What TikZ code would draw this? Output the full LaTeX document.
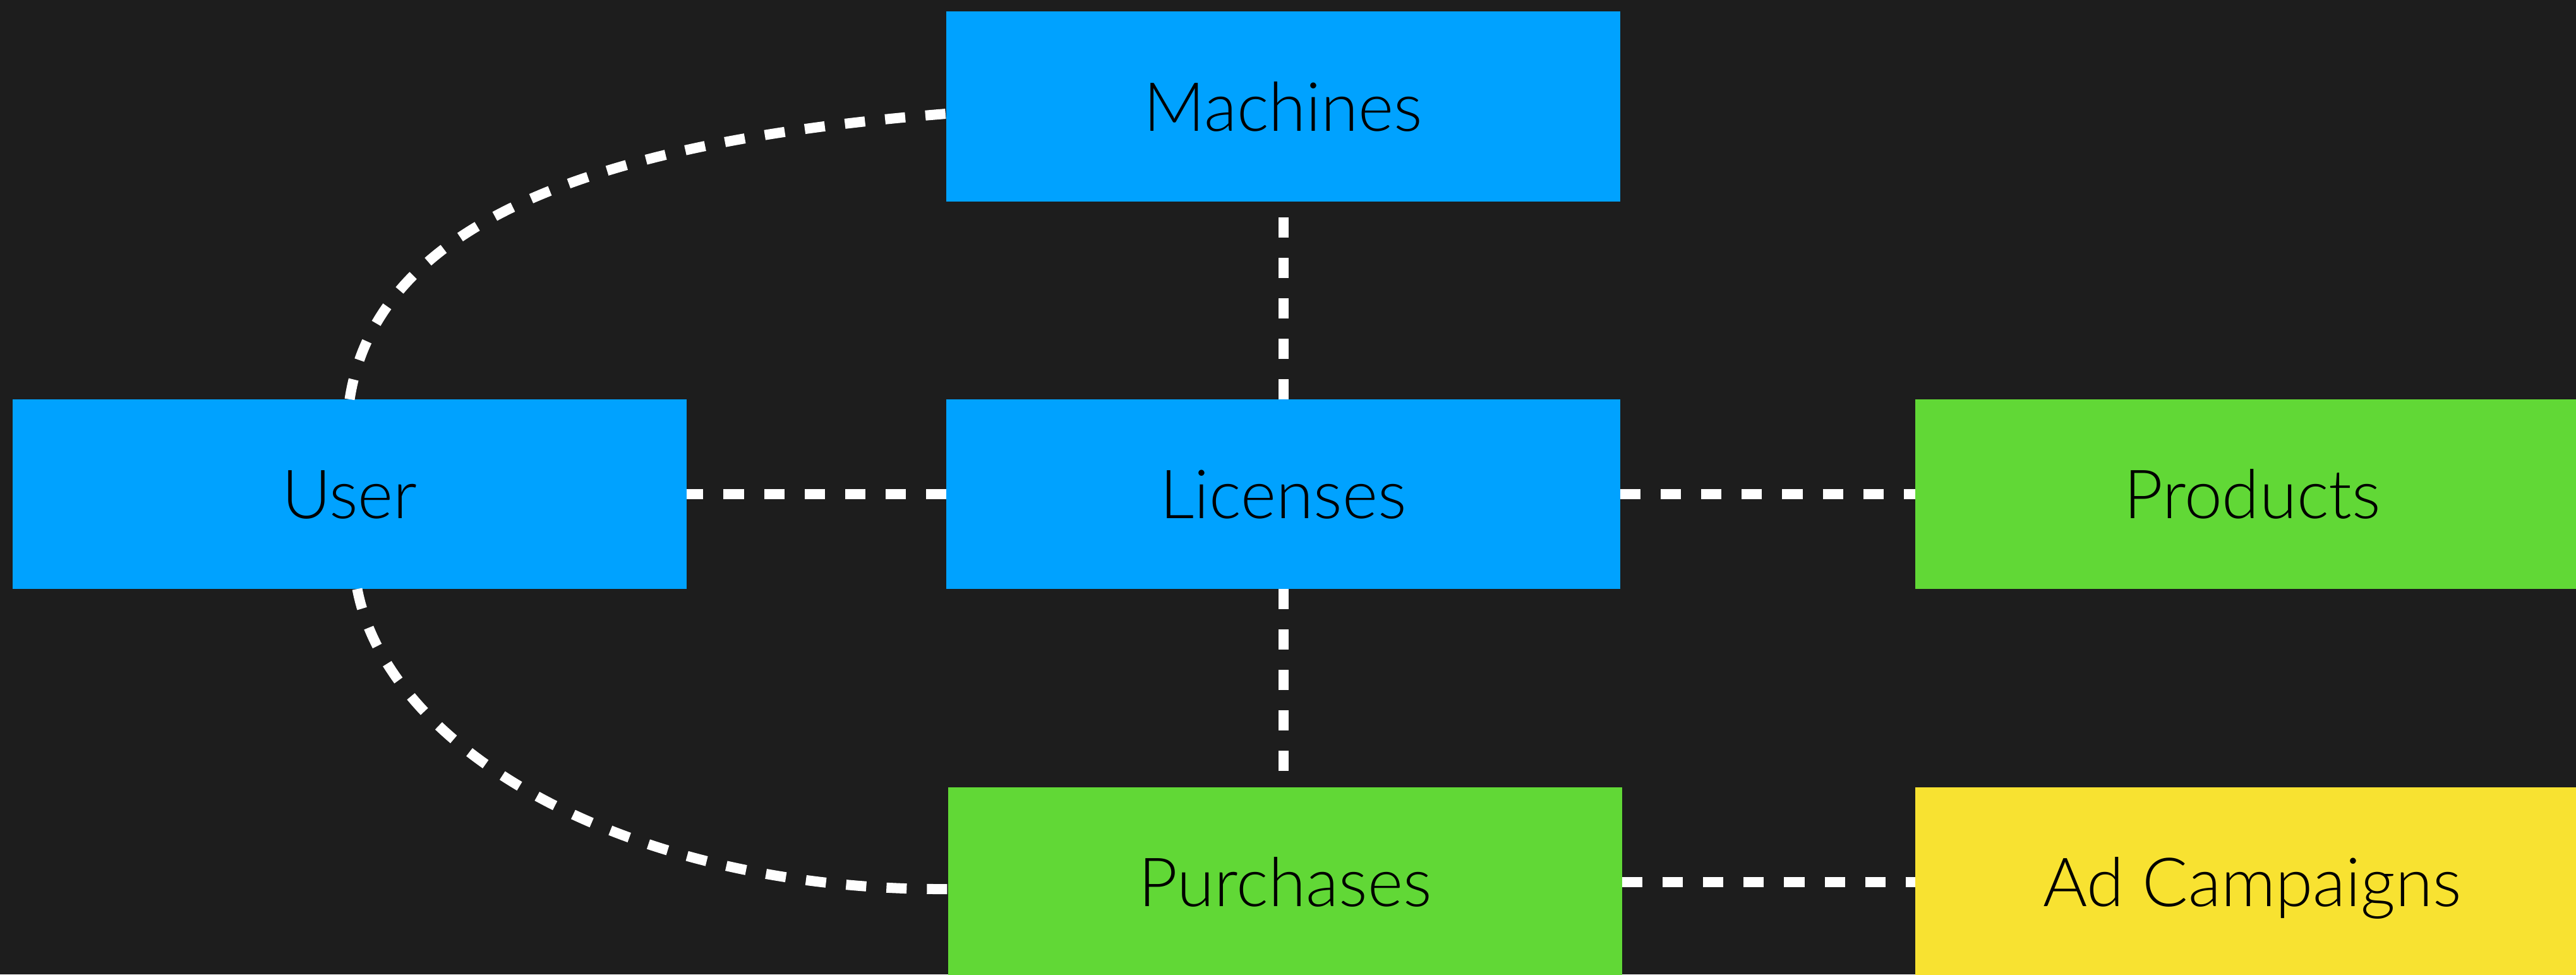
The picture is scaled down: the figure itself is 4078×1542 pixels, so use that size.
\documentclass[tikz,border=0pt]{standalone}
\usepackage{fontspec}
\setmainfont{Lato Light}
\definecolor{bgc}{HTML}{1D1D1D}
\definecolor{kblue}{HTML}{00A2FF}
\definecolor{kgreen}{HTML}{61D836}
\definecolor{kyellow}{HTML}{F8E231}
\tikzset{
  entity/.style={rectangle, draw=none, inner sep=0pt, outer sep=0pt,
    minimum width=10.67cm, minimum height=3cm,
    text height=0.77cm, text depth=0pt, text=black,
    font=\fontsize{30.5}{36}\selectfont},
  conn/.style={draw=white, line width=0.16cm, dash pattern=on 0.32cm off 0.32cm}
}
\begin{document}
\begin{tikzpicture}[x=0.01cm, y=-0.01cm]
\useasboundingbox (0,0) rectangle (4078,1542);
\fill[bgc] (0,0) rectangle (4078,1542);
\clip (0,0) rectangle (4078,1542);
\node[entity, fill=kblue] (machines) at (2031.5,168.5) {Machines};
\node[entity, fill=kblue] (user) at (553.5,782) {User};
\node[entity, fill=kblue] (licenses) at (2031.5,782) {Licenses};
\node[entity, fill=kgreen] (products) at (3565.5,782) {Products};
\node[entity, fill=kgreen] (purchases) at (2034.5,1396) {Purchases};
\node[entity, fill=kyellow] (ads) at (3565.5,1396) {Ad Campaigns};
\draw[conn] (licenses.north) -- (machines.south);
\draw[conn] (licenses.south) -- (licenses.south |- purchases.north);
\draw[conn] (licenses.west) -- (user.east);
\draw[conn] (licenses.east) -- (products.west);
\draw[conn] (purchases.east) -- (ads.west);
\draw[conn] (user.north) .. controls (600,330) and (1000,220) .. ([yshift=-0.115cm]machines.west);
\draw[conn] ([xshift=0.12cm]user.south) .. controls (615,1190) and (1000,1410) .. ([yshift=-0.11cm]purchases.west);
\end{tikzpicture}
\end{document}
